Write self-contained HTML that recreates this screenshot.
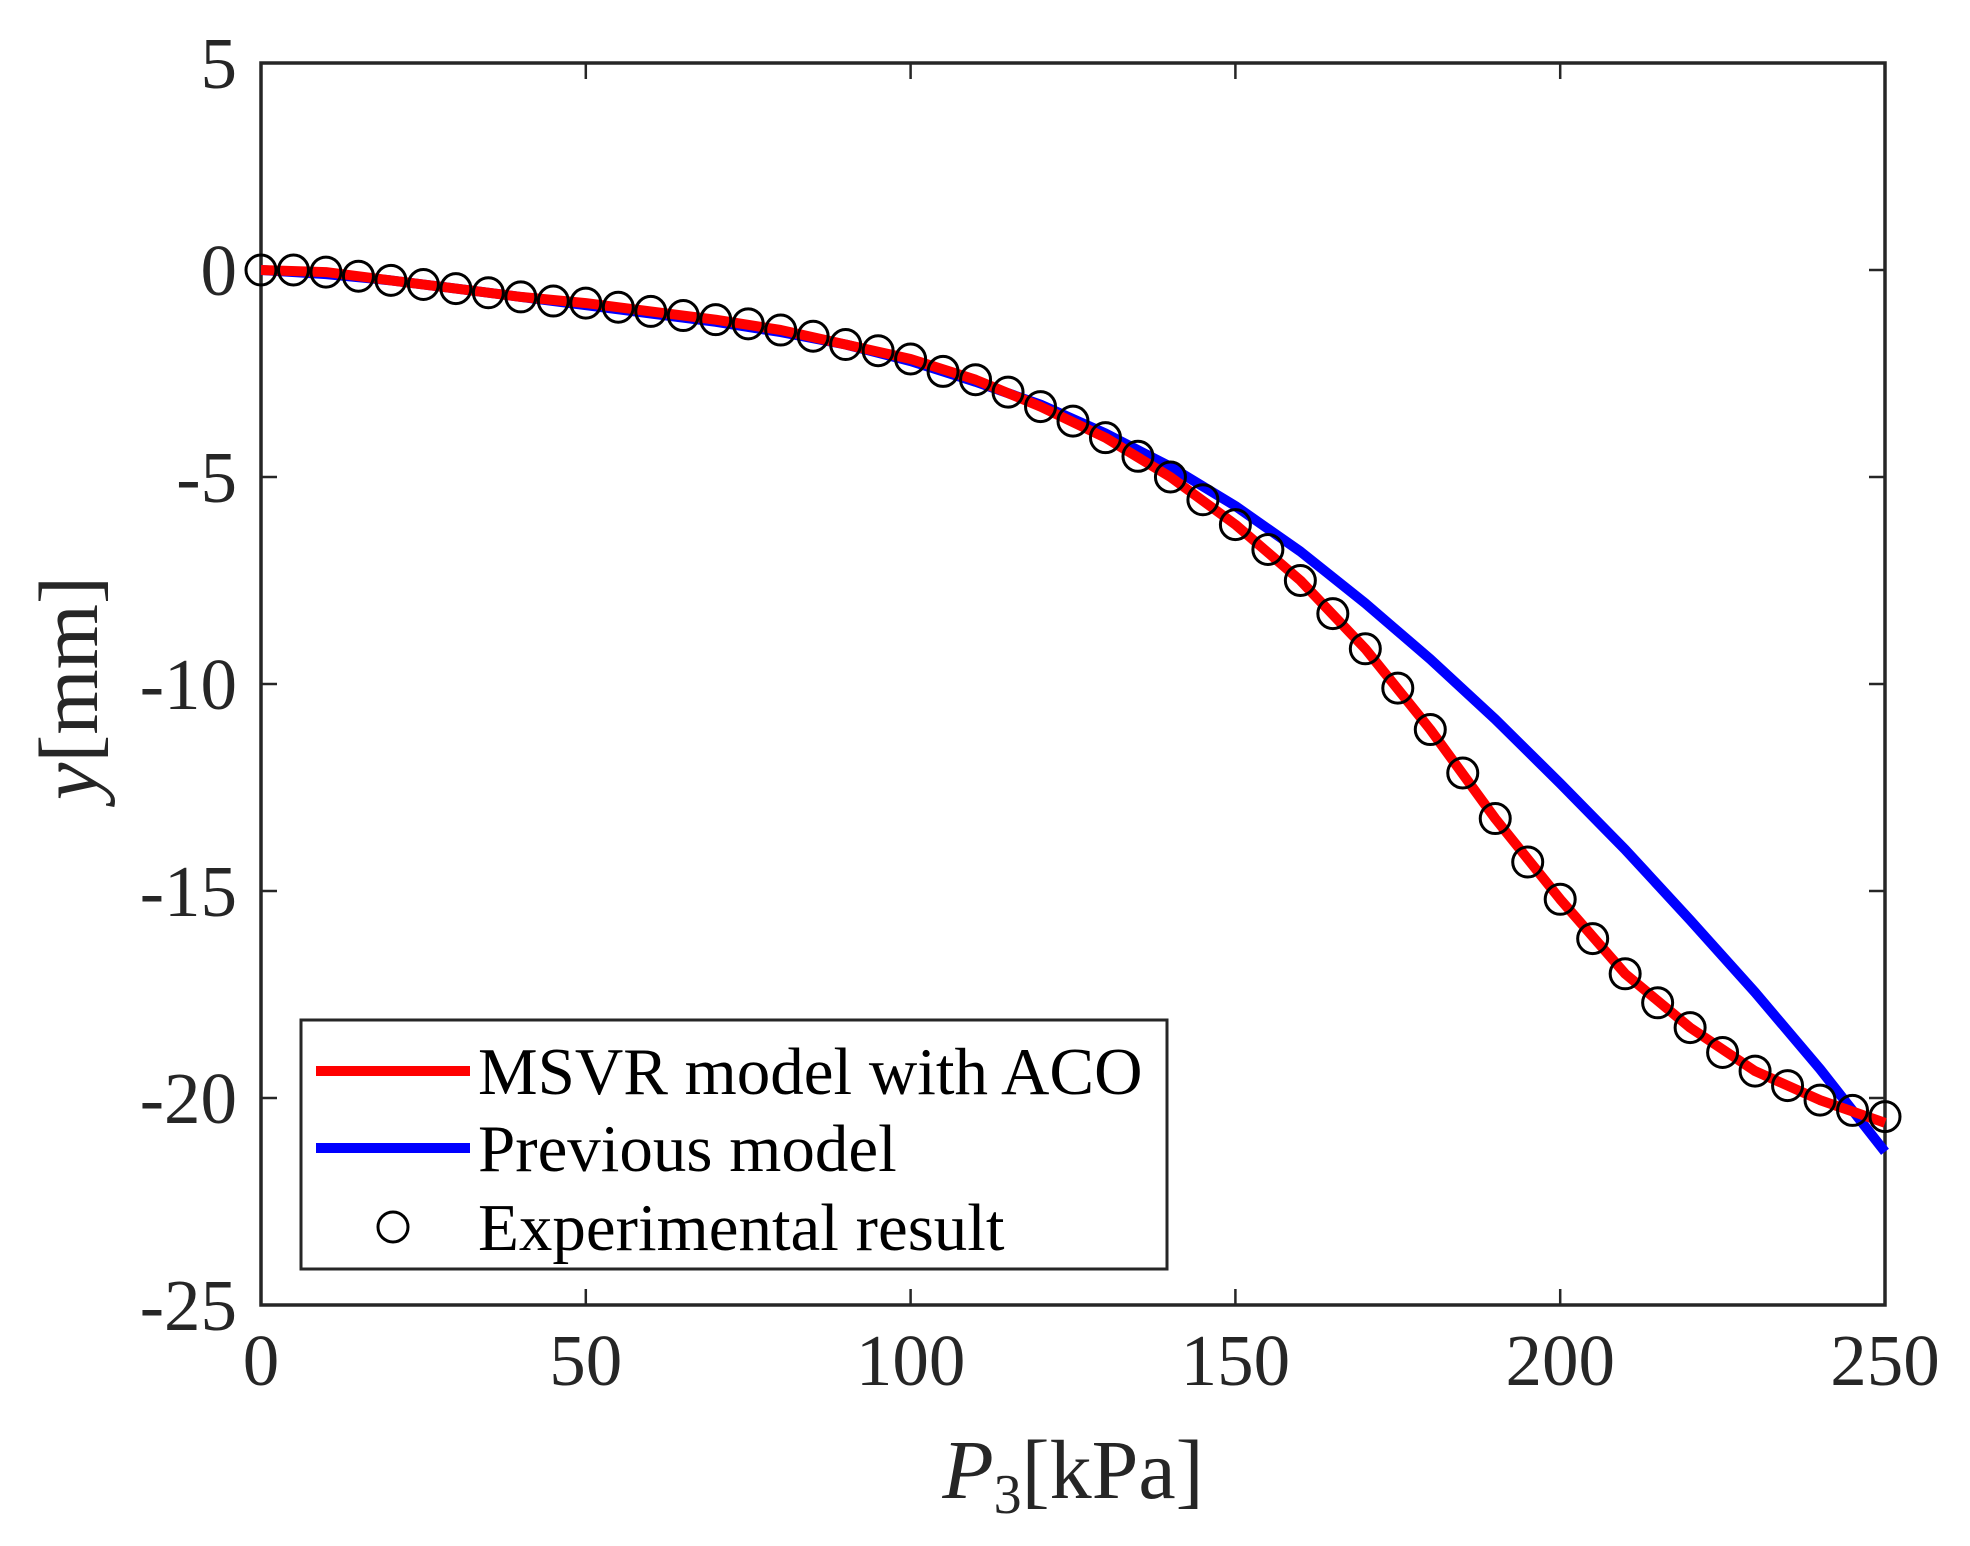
<!DOCTYPE html>
<html><head><meta charset="utf-8"><style>
html,body{margin:0;padding:0;background:#fff;}
svg{display:block;font-family:"Liberation Serif",serif;}
</style></head><body>
<svg id="chart" width="1970" height="1546" viewBox="0 0 1970 1546">
<g id="plot"></g>
</svg>
<script>
const xTicks=[0,50,100,150,200,250];
const yTicks=[5,0,-5,-10,-15,-20,-25];
const expX=[0,5,10,15,20,25,30,35,40,45,50,55,60,65,70,75,80,85,90,95,100,105,110,115,120,125,130,135,140,145,150,155,160,165,170,175,180,185,190,195,200,205,210,215,220,225,230,235,240,245,250];
const expY=[0,0,-0.05,-0.15,-0.25,-0.35,-0.45,-0.55,-0.65,-0.75,-0.8,-0.9,-1.0,-1.1,-1.2,-1.3,-1.45,-1.6,-1.8,-1.95,-2.15,-2.45,-2.65,-2.95,-3.3,-3.65,-4.05,-4.5,-5.0,-5.55,-6.15,-6.75,-7.5,-8.3,-9.15,-10.1,-11.1,-12.15,-13.25,-14.3,-15.2,-16.15,-17.0,-17.7,-18.3,-18.9,-19.35,-19.7,-20.05,-20.3,-20.45];
const msvrX=[0,10,20,30,40,50,60,70,80,90,100,110,120,130,140,150,160,170,180,190,200,210,220,230,240,250];
const msvrY=[0,-0.05,-0.25,-0.45,-0.65,-0.8,-1.0,-1.2,-1.45,-1.8,-2.15,-2.65,-3.3,-4.05,-5.0,-6.15,-7.5,-9.15,-11.1,-13.25,-15.2,-17.0,-18.3,-19.35,-20.05,-20.6];
const prevX=[0,10,20,30,40,50,60,70,80,90,100,110,120,130,140,150,160,170,180,190,200,210,220,230,240,250];
const prevY=[0,-0.1,-0.25,-0.45,-0.65,-0.85,-1.05,-1.25,-1.5,-1.8,-2.2,-2.7,-3.25,-3.95,-4.75,-5.7,-6.8,-8.05,-9.4,-10.85,-12.4,-14.0,-15.7,-17.45,-19.3,-21.3];

const L=261,R=1885,T=63,B=1305;
const sx=v=>L+(v-0)/(250-0)*(R-L);
const sy=v=>T+(5-v)/(5-(-25))*(B-T);
const NS='http://www.w3.org/2000/svg';
const g=document.getElementById('plot');
function mk(tag,attrs,parent){const e=document.createElementNS(NS,tag);for(const k in attrs)e.setAttribute(k,attrs[k]);(parent||g).appendChild(e);return e;}

const frame=mk('rect',{x:L,y:T,width:R-L,height:B-T,fill:'none',stroke:'#262626','stroke-width':3.5});



xTicks.forEach(v=>{
  const x=sx(v);
  const t1=mk('line',{x1:x,y1:B,x2:x,y2:B-16,stroke:'#262626','stroke-width':2.5});
  
  
  const t2=mk('line',{x1:x,y1:T,x2:x,y2:T+16,stroke:'#262626','stroke-width':2.5});
  
  
  const lb=mk('text',{x:x,y:B+80,'text-anchor':'middle','font-size':73,fill:'#262626'});
  lb.textContent=v;
  
  
});
yTicks.forEach(v=>{
  const y=sy(v);
  const t1=mk('line',{x1:L,y1:y,x2:L+16,y2:y,stroke:'#262626','stroke-width':2.5});
  
  
  const t2=mk('line',{x1:R,y1:y,x2:R-16,y2:y,stroke:'#262626','stroke-width':2.5});
  
  
  const lb=mk('text',{x:L-24,y:y+25,'text-anchor':'end','font-size':73,fill:'#262626'});
  lb.textContent=v;
  
  
});

function path(xs,ys){return xs.map((x,i)=>(i?'L':'M')+sx(x).toFixed(1)+' '+sy(ys[i]).toFixed(1)).join(' ');}
const blue=mk('path',{d:path(prevX,prevY),fill:'none',stroke:'#0000ff','stroke-width':10,'stroke-linejoin':'round'});


const red=mk('path',{d:path(msvrX,msvrY),fill:'none',stroke:'#ff0000','stroke-width':10,'stroke-linejoin':'round'});


expX.forEach((x,i)=>{
  const c=mk('circle',{cx:sx(x),cy:sy(expY[i]),r:15,fill:'none',stroke:'#000','stroke-width':3});
  
  
});

const lg=mk('g',{});


const lb=mk('rect',{x:301,y:1020,width:866,height:249,fill:'#fff',stroke:'#262626','stroke-width':3},lg);


const entries=[['MSVR model with ACO','#ff0000','line'],['Previous model','#0000ff','line'],['Experimental result','#000','circle']];
const rowsY=[1071,1148,1227];
entries.forEach((e,i)=>{
  const y=rowsY[i];
  let m;
  if(e[2]==='line'){m=mk('line',{x1:316,y1:y,x2:470,y2:y,stroke:e[1],'stroke-width':10},lg);}
  else{m=mk('circle',{cx:393,cy:y,r:15,fill:'none',stroke:'#000','stroke-width':3},lg);}
  
  
  const t=mk('text',{x:478,y:y+23,'font-size':67,fill:'#000'},lg);
  t.textContent=e[0];
  
  
});
</script>
<svg style="position:absolute;left:0;top:0" width="1970" height="1546">
<text x="1073" y="1498" text-anchor="middle" font-size="84" fill="#262626" font-family="Liberation Serif,serif"><tspan font-style="italic">P</tspan><tspan font-size="56" dy="15">3</tspan><tspan dy="-15">[kPa]</tspan></text>
<text transform="translate(97,688) rotate(-90)" text-anchor="middle" font-size="84" fill="#262626" font-family="Liberation Serif,serif"><tspan font-style="italic">y</tspan>[mm]</text>
</svg>
</body></html>
